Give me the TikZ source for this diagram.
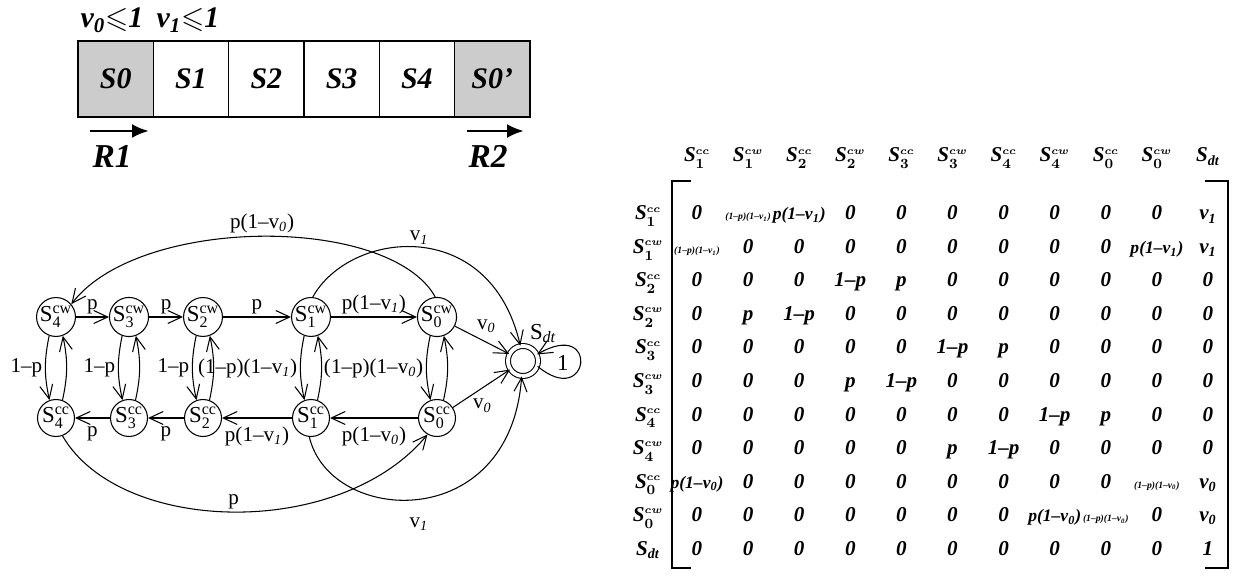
\documentclass[tikz,border=0pt]{standalone}
\usepackage{amsmath,amssymb}
\usepackage{fontspec}
\setmainfont{Liberation Serif}
\usetikzlibrary{arrows.meta,positioning,calc}
\definecolor{cellgray}{gray}{0.80}
\newcommand{\stlab}[2]{S$^{\mathrm{#1}}_{\mathrm{#2}}$}
\newcommand{\mlab}[2]{S$^{\scriptscriptstyle #1}_{#2}$}
\newcommand{\pvent}[1]{p(1--v\textsubscript{#1})}
\newcommand{\mpv}[1]{{\fontsize{10}{11}\selectfont p(1--v\textsubscript{#1})}}
\newcommand{\smallent}[1]{{\fontsize{5.5}{6}\selectfont(1--p)(1--v\textsubscript{#1})}}
\tikzset{
  ax/.style={-{Straight Barb[length=2.8mm,width=2.6mm]},semithick},
  fatarr/.style={-{Latex[length=3.4mm,width=2.8mm]},line width=1.6pt},
  stnode/.style={circle,draw,semithick,minimum size=0.74cm,inner sep=0pt,font=\fontsize{13}{13}\selectfont},
  sink/.style={circle,draw,semithick,double,double distance=2.2pt,minimum size=0.6cm,inner sep=0pt},
  cellbox/.style={draw,thick,minimum width=1.506cm,minimum height=1.52cm,inner sep=0pt,font=\fontsize{17}{20}\selectfont\bfseries\itshape},
  toplab/.style={font=\fontsize{17}{20}\selectfont\bfseries\itshape\boldmath,inner sep=0pt},
  elab/.style={font=\fontsize{12}{13}\selectfont,inner sep=1.5pt},
  ment/.style={font=\fontsize{12}{13}\selectfont\bfseries\itshape\boldmath,inner sep=0pt,anchor=base},
  brk/.style={line width=1.5pt},
}
\begin{document}
\begin{tikzpicture}[x=0.02cm,y=-0.02cm]
  \useasboundingbox (0,0) rectangle (1234,587);
  % strip of sections
  \node[cellbox,fill=cellgray] (b0) at (115.7,79) {S0};
  \foreach \lab [count=\i] in {S1,S2,S3,S4}
    \node[cellbox] (b\i) at ({115.7+75.3*\i},79) {\lab};
  \node[cellbox,fill=cellgray] (b5) at (492.2,79) {S0'};
  \node[toplab] (cond0) at (112,20) {v\textsubscript{0}$\leqslant$1};
  \node[toplab] (cond1) at (188,20) {v\textsubscript{1}$\leqslant$1};
  \coordinate (r1a) at (90,131);  \coordinate (r1b) at (149,131);
  \coordinate (r2a) at (467,131); \coordinate (r2b) at (524,131);
  \draw[fatarr] (r1a) -- (r1b);
  \draw[fatarr] (r2a) -- (r2b);
  \node[toplab,font=\fontsize{19}{21}\selectfont\bfseries\itshape] (rob1) at (112,156) {R1};
  \node[toplab,font=\fontsize{19}{21}\selectfont\bfseries\itshape] (rob2) at (488,156) {R2};

  % chain of states
  \foreach \k/\xx in {4/56,3/129,2/203,1/311,0/437} {
    \node[stnode] (w\k) at (\xx,317) {\stlab{cw}{\k}};
    \node[stnode] (c\k) at (\xx,418) {\stlab{cc}{\k}};
  }
  \node[sink,label={[name=sdtl,elab,font=\fontsize{13}{13}\selectfont,label distance=0pt]75:S\textsubscript{\textit{dt}}}] (sdt) at (523,361) {};

  \draw[ax] (w4) -- node[elab,above]{p} (w3);
  \draw[ax] (w3) -- node[elab,above]{p} (w2);
  \draw[ax] (w2) -- node[elab,above]{p} (w1);
  \draw[ax] (w1) -- node[elab,above]{\pvent{\textit{1}}} (w0);
  \draw[ax] (w0) -- node[elab,pos=0.35,above right]{v\textsubscript{\textit{0}}} (sdt);
  \draw[ax] (c1) -- node[elab,below=3pt]{\pvent{\textit{1}}} (c2);
  \draw[ax] (c2) -- node[elab,below=3pt]{p} (c3);
  \draw[ax] (c3) -- node[elab,below=3pt]{p} (c4);
  \draw[ax] (c0) -- node[elab,below=3pt]{\pvent{\textit{0}}} (c1);
  \draw[ax] (c0) -- node[elab,pos=0.3,below right]{v\textsubscript{\textit{0}}} (sdt);

  % up and down between the two rows
  \foreach \k/\lab in {4/1--p,3/1--p,2/1--p,1/{(1--p)(1--v\textsubscript{\textit{1}})},0/{(1--p)(1--v\textsubscript{\textit{0}})}} {
    \draw[ax] (w\k.-110) to[bend right=12] node[elab,left]{\lab} (c\k.110);
    \draw[ax] (c\k.70) to[bend right=12] (w\k.-70);
  }

  % long arcs
  \draw[ax] (w0.95) .. controls (390,215) and (140,215) .. (w4.40)
    node[elab,pos=0.5,above]{\pvent{\textit{0}}};
  \draw[ax] (w1.85) .. controls (350,230) and (490,215) .. (sdt.100)
    node[elab,pos=0.5,above]{v\textsubscript{\textit{1}}};
  \draw[ax] (c4.-70) .. controls (120,535) and (340,540) .. (c0.-120)
    node[elab,pos=0.5,above]{p};
  \draw[ax] (c1.-95) .. controls (330,525) and (510,535) .. (sdt.-95)
    node[elab,pos=0.5,below=9pt]{v\textsubscript{\textit{1}}};
  \draw[ax] (sdt.-20) .. controls (590,410) and (600,318) .. (sdt.25)
    node[elab,pos=0.5,left=5pt,font=\fontsize{13}{13}\selectfont]{1};

  % transition matrix
  \foreach \sp/\sb [count=\j] in {cc/1,cw/1,cc/2,cw/2,cc/3,cw/3,cc/4,cw/4,cc/0,cw/0} {
    \node[ment] (h\j) at ({697+51.1*(\j-1)},162) {\mlab{\sp}{\sb}};
    \node[ment] (r\j) at (648,{220+33.5*(\j-1)}) {\mlab{\sp}{\sb}};
  }
  \node[ment] (h11) at (1208,162) {S\textsubscript{dt}};
  \node[ment] (r11) at (648,555) {S\textsubscript{dt}};
  \foreach \i/\row in {
      1/{0,\smallent{1},\mpv{1},0,0,0,0,0,0,0,v\textsubscript{1}},
      2/{\smallent{1},0,0,0,0,0,0,0,0,\mpv{1},v\textsubscript{1}},
      3/{0,0,0,1--p,p,0,0,0,0,0,0},
      4/{0,p,1--p,0,0,0,0,0,0,0,0},
      5/{0,0,0,0,0,1--p,p,0,0,0,0},
      6/{0,0,0,p,1--p,0,0,0,0,0,0},
      7/{0,0,0,0,0,0,0,1--p,p,0,0},
      8/{0,0,0,0,0,p,1--p,0,0,0,0},
      9/{\mpv{0},0,0,0,0,0,0,0,0,\smallent{0},v\textsubscript{0}},
      10/{0,0,0,0,0,0,0,\mpv{0},\smallent{0},0,v\textsubscript{0}},
      11/{0,0,0,0,0,0,0,0,0,0,1}} {
    \foreach \e [count=\j] in \row
      \node[ment] (m\i-\j) at ({697+51.1*(\j-1)},{220+33.5*(\i-1)}) {\e};
  }
  \draw[brk] (691,181) -- (672,181) -- (672,568) -- (691,568);
  \draw[brk] (1205,181) -- (1228,181) -- (1228,568) -- (1205,568);
\end{tikzpicture}
\end{document}
